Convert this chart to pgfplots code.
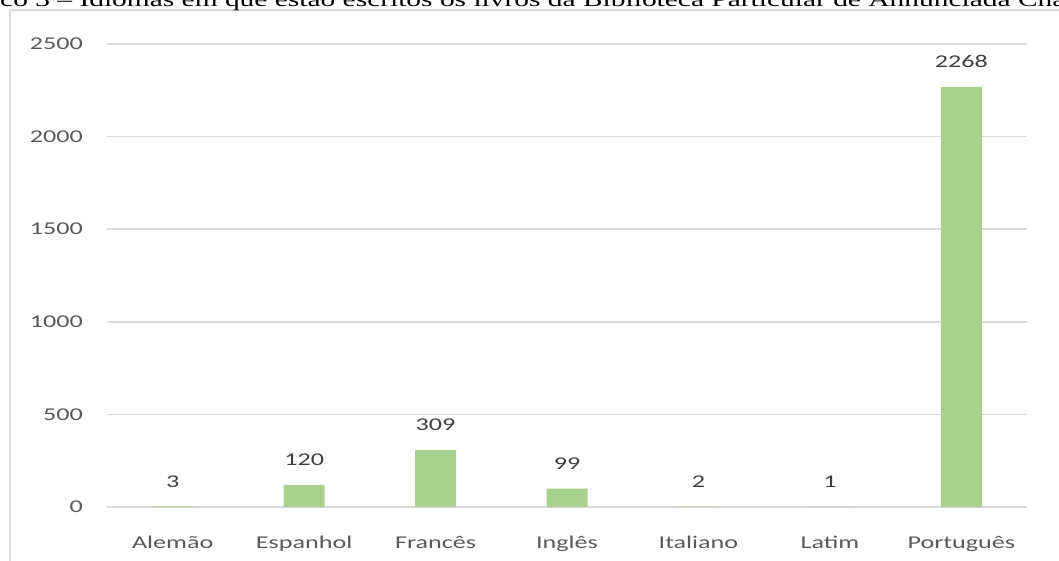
\documentclass[border=0pt]{standalone}
\usepackage{fontspec}
\usepackage{pgfplots}
\pgfplotsset{compat=1.18}
\setmainfont{Carlito}[FakeStretch=1.45]
\newfontfamily\titlefont{Liberation Serif}[FakeStretch=1.45]
\definecolor{barfill}{HTML}{A9D18E}
\definecolor{gridgray}{HTML}{D9D9D9}
\definecolor{ticktext}{HTML}{595959}
\definecolor{valtext}{HTML}{404040}

\begin{document}
\begin{tikzpicture}[x=1bp,y=1bp]
\begin{axis}[
  at={(107bp,-507bp)}, anchor=south west, scale only axis,
  width=920bp, height=463bp,
  xmin=-0.5, xmax=6.5, ymin=0, ymax=2500,
  xtick={0,...,6},
  xticklabels={Alemão,Espanhol,Francês,Inglês,Italiano,Latim,Português},
  ytick={0,500,...,2500},
  axis line style={draw=none},
  major tick length=0pt,
  ymajorgrids,
  grid style={gridgray, line width=1.5bp},
  /pgf/number format/assume math mode=true,
  /pgf/number format/1000 sep={},
  tick label style={font=\fontsize{18bp}{21bp}\selectfont, text=ticktext, inner sep=0pt},
  yticklabel style={anchor=east, xshift=-24bp},
  xticklabel style={anchor=base, yshift=-41bp},
  ybar, bar width=41bp,
  nodes near coords,
  nodes near coords style={font=\fontsize{18bp}{21bp}\selectfont, text=valtext, inner sep=0pt, anchor=base, yshift=19bp},
  clip=false,
]
\addplot[fill=barfill, draw=none] coordinates {
  (0,3) (1,120) (2,309) (3,99) (4,2) (5,1) (6,2268)
};
\end{axis}
% chart frame
\draw[gridgray, line width=2bp] (1090,-10) -| (10,-590);
% caption line above the chart
\node[anchor=base west, inner sep=0, font=\titlefont\fontsize{20.3bp}{24bp}\selectfont]
  at (0,-7) {\llap{Gráfi}co 3 – Idiomas em que estão escritos os livros da Biblioteca Particular de Annunciada Chagas};
\pgfresetboundingbox
\path[use as bounding box] (0,0) rectangle (1059,-561);
\end{tikzpicture}
\end{document}
